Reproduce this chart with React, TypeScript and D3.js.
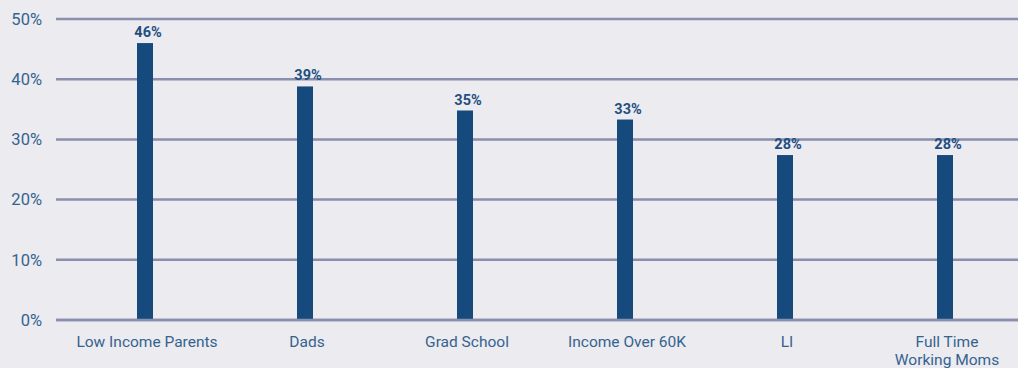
import React from "react";
import * as d3 from "d3";

const categories: string[][] = [
  ["Low Income Parents"],
  ["Dads"],
  ["Grad School"],
  ["Income Over 60K"],
  ["LI"],
  ["Full Time", "Working Moms"],
];
const values: number[] = [46, 38.8, 34.8, 33.3, 27.4, 27.4];
const valueLabels: string[] = ["46%", "39%", "35%", "33%", "28%", "28%"];
const yTicks: number[] = [0, 10, 20, 30, 40, 50];

const W = 1018;
const H = 368;
const FONT = "Roboto, 'DejaVu Sans', sans-serif";

export default function App() {
  const y = d3.scaleLinear().domain([0, 50]).range([320, 19]);
  const x = d3
    .scaleBand<number>()
    .domain(d3.range(categories.length))
    .range([65, 1025])
    .paddingInner(0.9)
    .paddingOuter(0.45);
  const bw = 16;
  return (
    <svg
      width={W}
      height={H}
      style={{ position: "absolute", left: 0, top: 0, background: "#ebebf0" }}
    >
      <rect width={W} height={H} fill="#ebebf0" />
      {yTicks.map((t) => (
        <g key={t}>
          <line x1={56} x2={W} y1={y(t)} y2={y(t)} stroke="#8a8fae" strokeWidth={2.5} />
          <text
            x={42}
            y={y(t)}
            dy="0.35em"
            textAnchor="end"
            fontFamily={FONT}
            fontSize={16.5}
            fill="#35638f"
          >
            {t}%
          </text>
        </g>
      ))}
      {values.map((v, i) => {
        const cx = (x(i) as number) + x.bandwidth() / 2;
        return (
          <g key={i}>
            <rect x={cx - bw / 2} y={y(v)} width={bw} height={y(0) - y(v)} fill="#174a7c" />
            <text
              x={cx + 3}
              y={y(v) - 6}
              textAnchor="middle"
              fontFamily={FONT}
              fontWeight="bold"
              fontSize={14.5}
              fill="#1f4f80"
            >
              {valueLabels[i]}
            </text>
            {categories[i].map((line, j) => (
              <text
                key={j}
                x={cx + 2}
                y={347 + j * 18}
                textAnchor="middle"
                fontFamily={FONT}
                fontSize={15.5}
                fill="#35638f"
              >
                {line}
              </text>
            ))}
          </g>
        );
      })}
      <line x1={56} x2={W} y1={y(0)} y2={y(0)} stroke="#8a8fae" strokeWidth={2.5} />
    </svg>
  );
}
